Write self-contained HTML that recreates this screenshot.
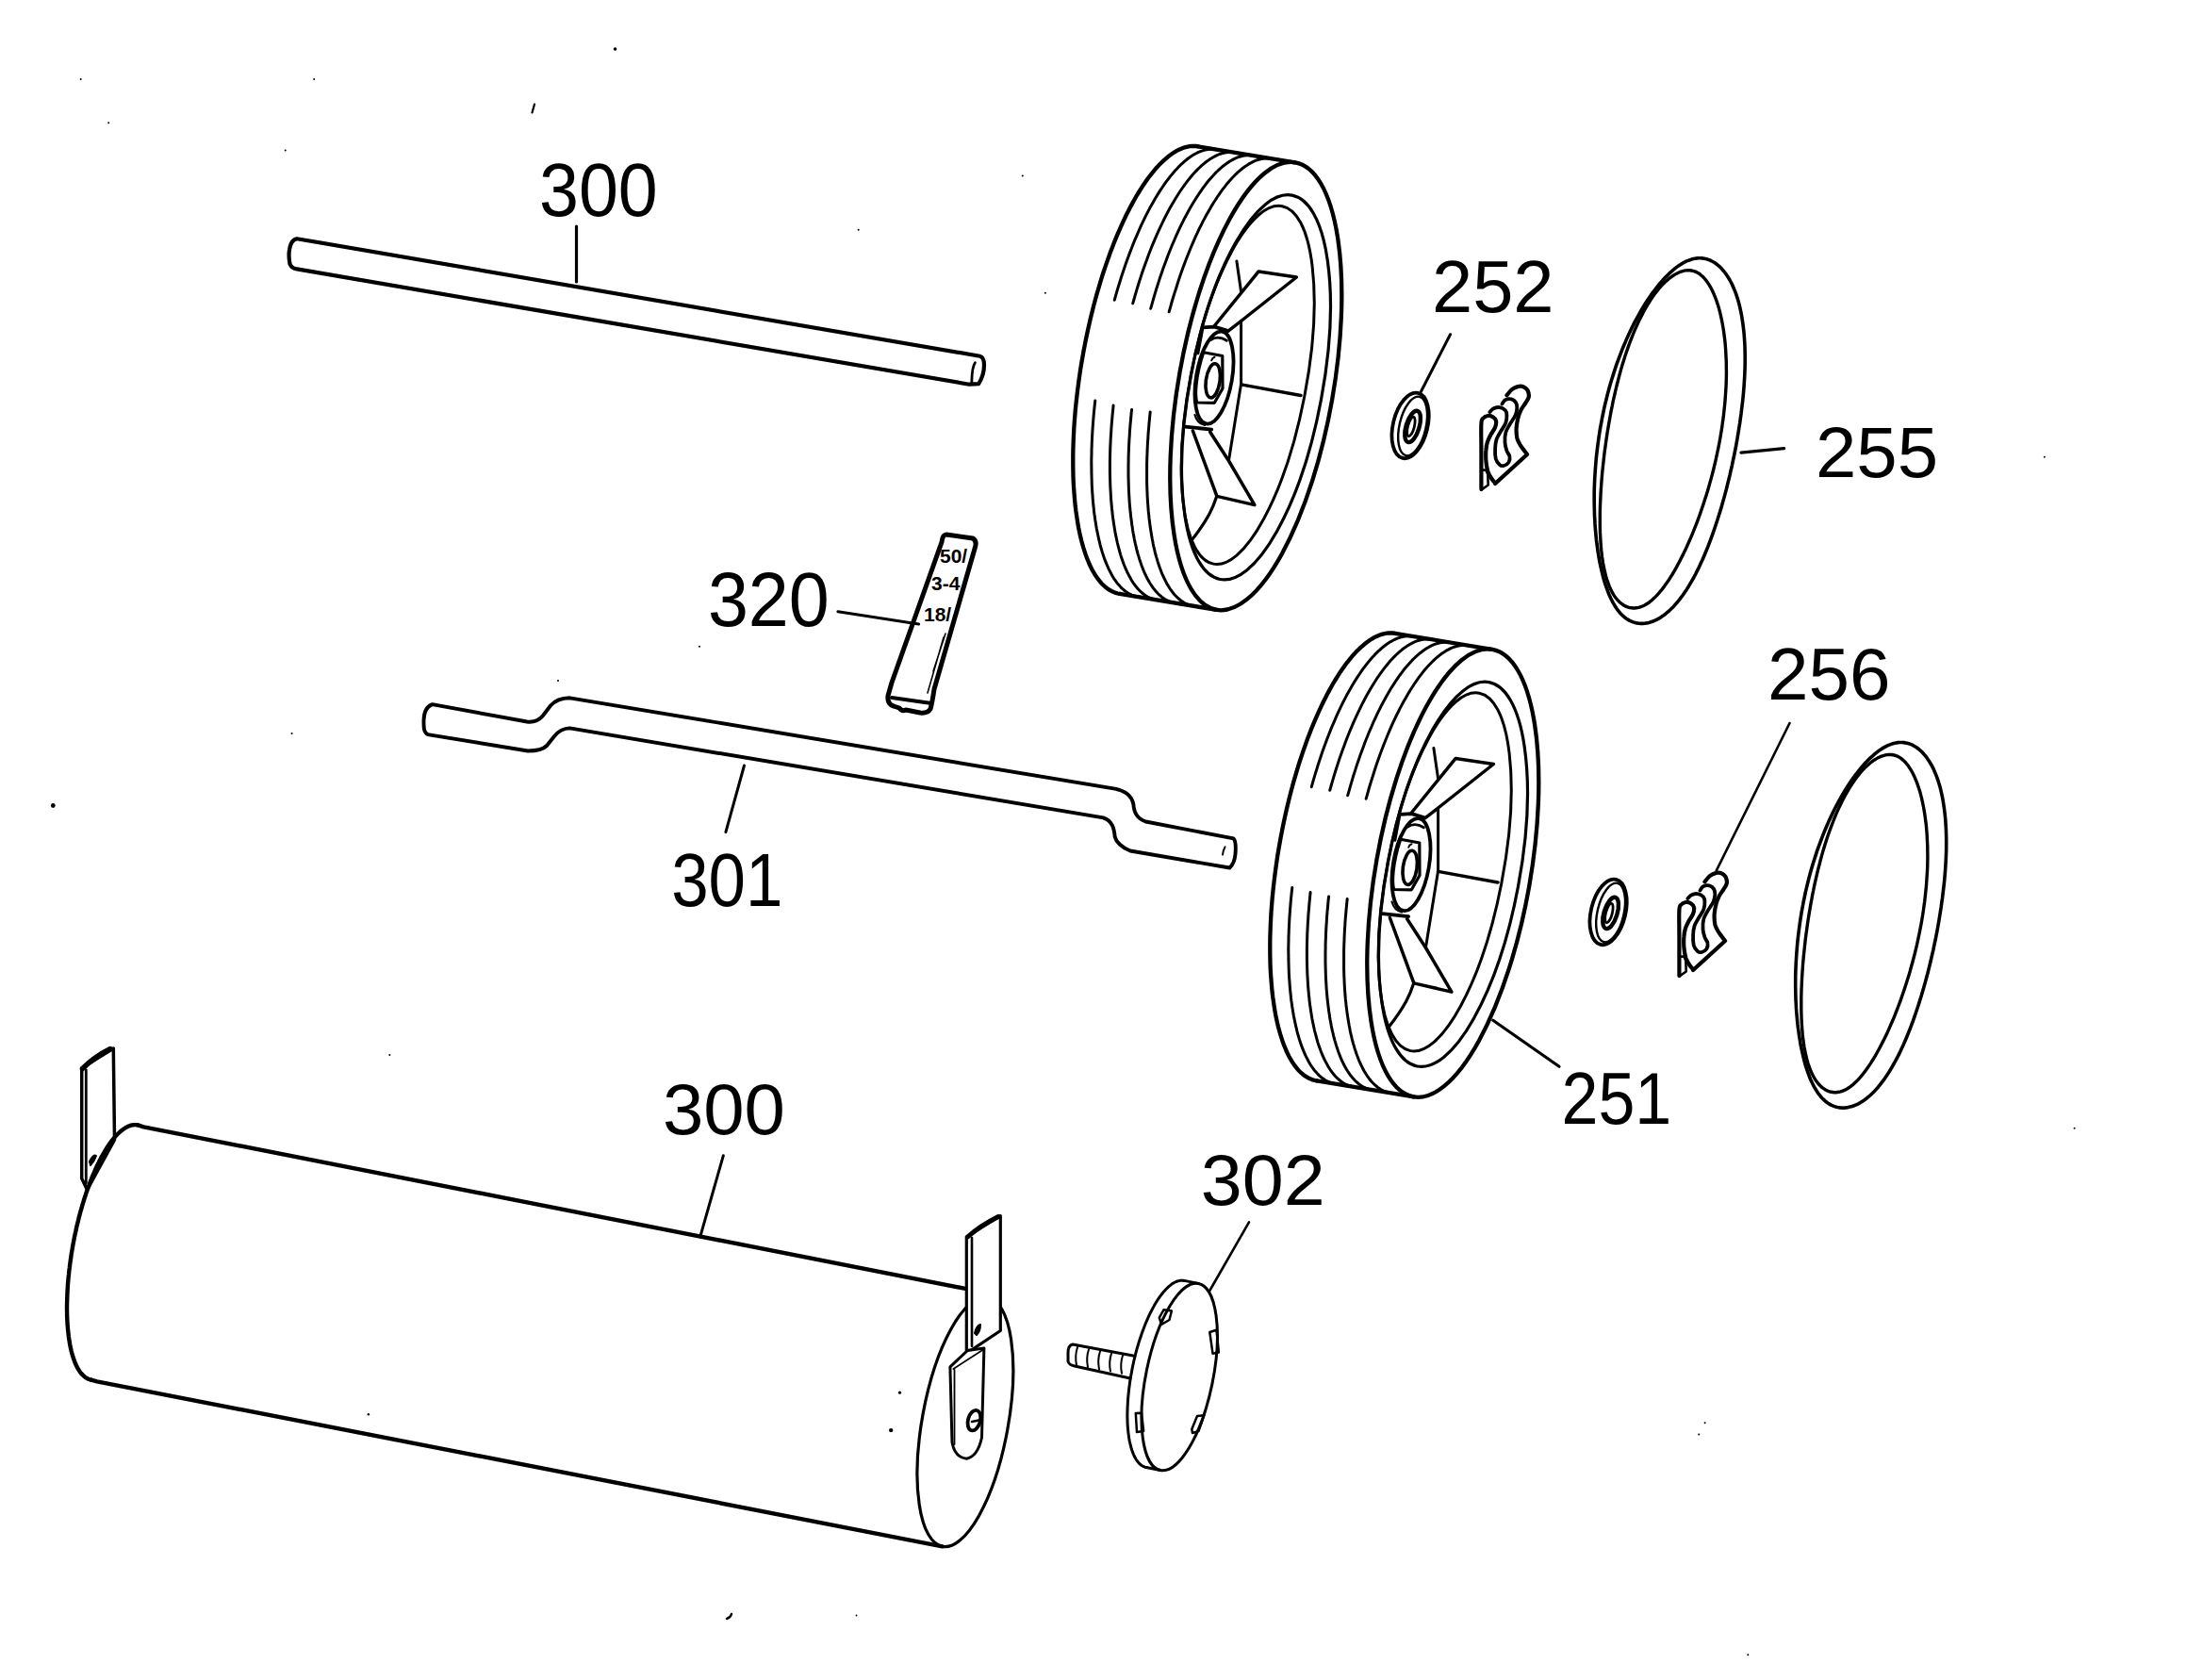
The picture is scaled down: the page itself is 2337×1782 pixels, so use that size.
<!DOCTYPE html>
<html><head><meta charset="utf-8"><style>
html,body{margin:0;padding:0;background:#fff;overflow:hidden;width:2337px;height:1782px;}
svg{display:block;}
text{font-family:"Liberation Sans",sans-serif;fill:#000;stroke:none;}
.lbl{font-size:100px;}
.tag{font-size:21px;font-weight:bold;}
</style></head><body>
<svg width="2337" height="1782" viewBox="0 0 2337 1782">
<g fill="none" stroke="#000" stroke-linecap="round" stroke-linejoin="round">
<g id="wheel"><path d="M1270.8 155.3 L1268.7 155.0 L1266.5 154.9 L1264.3 155.0 L1262.1 155.2 L1259.9 155.6 L1257.6 156.1 L1255.4 156.8 L1253.1 157.7 L1250.8 158.7 L1248.4 159.9 L1246.1 161.3 L1243.8 162.8 L1241.4 164.5 L1239.0 166.3 L1236.7 168.3 L1234.3 170.4 L1231.9 172.7 L1229.5 175.1 L1227.1 177.7 L1224.8 180.4 L1222.4 183.3 L1220.0 186.3 L1217.6 189.5 L1215.3 192.8 L1212.9 196.2 L1210.6 199.8 L1208.3 203.5 L1205.9 207.3 L1203.7 211.3 L1201.4 215.4 L1199.1 219.6 L1196.9 223.9 L1194.7 228.3 L1192.5 232.9 L1190.3 237.6 L1188.2 242.3 L1186.1 247.2 L1184.0 252.2 L1181.9 257.2 L1179.9 262.4 L1177.9 267.6 L1176.0 273.0 L1174.1 278.4 L1172.2 283.9 L1170.3 289.5 L1168.5 295.1 L1166.8 300.8 L1165.1 306.6 L1163.4 312.4 L1161.8 318.3 L1160.2 324.2 L1158.7 330.2 L1157.2 336.2 L1155.8 342.3 L1154.4 348.4 L1153.1 354.5 L1151.8 360.7 L1150.6 366.9 L1149.4 373.0 L1148.3 379.3 L1147.2 385.5 L1146.2 391.7 L1145.3 397.9 L1144.4 404.1 L1143.6 410.3 L1142.8 416.5 L1142.1 422.7 L1141.4 428.9 L1140.8 435.0 L1140.3 441.1 L1139.8 447.2 L1139.4 453.2 L1139.1 459.2 L1138.8 465.2 L1138.6 471.1 L1138.4 476.9 L1138.3 482.7 L1138.3 488.4 L1138.3 494.1 L1138.4 499.7 L1138.5 505.2 L1138.7 510.6 L1139.0 516.0 L1139.4 521.3 L1139.8 526.5 L1140.2 531.6 L1140.7 536.6 L1141.3 541.5 L1142.0 546.3 L1142.7 551.0 L1143.4 555.5 L1144.2 560.0 L1145.1 564.4 L1146.0 568.6 L1147.0 572.7 L1148.1 576.7 L1149.2 580.6 L1150.4 584.3 L1151.6 588.0 L1152.8 591.4 L1154.2 594.8 L1155.5 598.0 L1156.9 601.0 L1158.4 604.0 L1159.9 606.7 L1161.5 609.3 L1163.1 611.8 L1164.8 614.2 L1166.5 616.3 L1168.2 618.4 L1170.0 620.2 L1171.8 621.9 L1173.7 623.5 L1175.6 624.9 L1177.6 626.1 L1179.5 627.2 L1181.6 628.1 L1183.6 628.9 L1185.7 629.5 L1187.8 629.9" stroke-width="4.3"/>
<path d="M1270.8 155.3 L1373.8 172.3" stroke-width="4.3"/>
<path d="M1187.8 629.9 L1290.8 646.9" stroke-width="4.3"/>
<path d="M1290.4 158.5 L1288.6 158.3 L1286.9 158.2 L1285.1 158.2 L1283.3 158.3 L1281.4 158.5 L1279.6 158.8 L1277.7 159.2 L1275.9 159.8 L1274.0 160.4 L1272.1 161.2 L1270.2 162.0 L1268.3 163.0 L1266.3 164.1 L1264.4 165.3 L1262.5 166.6 L1260.5 168.0 L1258.6 169.5 L1256.6 171.1 L1254.7 172.9 L1252.7 174.7 L1250.7 176.6 L1248.8 178.7 L1246.8 180.8 L1244.9 183.0 L1242.9 185.4 L1240.9 187.8 L1239.0 190.3 L1237.0 192.9 L1235.1 195.7 L1233.2 198.5 L1231.2 201.4 L1229.3 204.4 L1227.4 207.4 L1225.5 210.6 L1223.6 213.9 L1221.7 217.2 L1219.8 220.6 L1218.0 224.1 L1216.1 227.7 L1214.3 231.4 L1212.5 235.1 L1210.7 238.9 L1208.9 242.8 L1207.2 246.8 L1205.5 250.8 L1203.7 254.9 L1202.0 259.1 L1200.4 263.3 L1198.7 267.6 L1197.1 271.9 L1195.5 276.3 L1193.9 280.8 L1192.4 285.3 L1190.8 289.9 L1189.3 294.5 L1187.9 299.2 L1186.4 303.9 L1185.0 308.6 L1183.6 313.4 L1182.3 318.2" stroke-width="3.0"/>
<path d="M1161.8 425.0 L1161.3 429.1 L1160.9 433.2 L1160.5 437.2 L1160.1 441.3 L1159.8 445.3 L1159.5 449.4 L1159.2 453.4 L1158.9 457.4 L1158.7 461.4 L1158.5 465.4 L1158.3 469.3 L1158.2 473.2 L1158.0 477.1 L1158.0 481.0 L1157.9 484.8 L1157.8 488.7 L1157.8 492.4 L1157.9 496.2 L1157.9 499.9 L1158.0 503.6 L1158.1 507.3 L1158.2 510.9 L1158.3 514.5 L1158.5 518.1 L1158.7 521.6 L1159.0 525.1 L1159.2 528.6 L1159.5 532.0 L1159.8 535.3 L1160.2 538.7 L1160.5 542.0 L1160.9 545.2 L1161.4 548.4 L1161.8 551.5 L1162.3 554.6 L1162.8 557.7 L1163.3 560.7 L1163.9 563.6 L1164.5 566.5 L1165.1 569.4 L1165.7 572.2 L1166.4 574.9 L1167.0 577.6 L1167.7 580.3 L1168.5 582.8 L1169.2 585.4 L1170.0 587.8 L1170.8 590.2 L1171.6 592.6 L1172.5 594.9 L1173.4 597.1 L1174.3 599.3 L1175.2 601.4 L1176.1 603.4 L1177.1 605.4 L1178.1 607.3 L1179.1 609.2 L1180.1 611.0 L1181.1 612.7 L1182.2 614.4 L1183.3 615.9 L1184.4 617.5 L1185.5 618.9 L1186.7 620.3 L1187.9 621.6 L1189.0 622.9 L1190.2 624.1 L1191.5 625.2 L1192.7 626.3 L1194.0 627.2 L1195.2 628.1 L1196.5 629.0 L1197.8 629.7 L1199.1 630.4 L1200.5 631.1 L1201.8 631.6 L1203.2 632.1 L1204.6 632.5 L1205.9 632.9 L1207.3 633.1" stroke-width="3.0"/>
<path d="M1310.0 161.8 L1308.2 161.5 L1306.4 161.4 L1304.6 161.4 L1302.8 161.5 L1301.0 161.7 L1299.1 162.0 L1297.3 162.5 L1295.4 163.0 L1293.5 163.7 L1291.6 164.4 L1289.7 165.3 L1287.8 166.3 L1285.9 167.4 L1284.0 168.6 L1282.0 169.9 L1280.1 171.3 L1278.1 172.8 L1276.2 174.4 L1274.2 176.1 L1272.2 178.0 L1270.3 179.9 L1268.3 181.9 L1266.3 184.1 L1264.4 186.3 L1262.4 188.7 L1260.4 191.1 L1258.5 193.6 L1256.5 196.3 L1254.6 199.0 L1252.6 201.8 L1250.7 204.7 L1248.8 207.7 L1246.9 210.8 L1245.0 214.0 L1243.1 217.2 L1241.2 220.6 L1239.3 224.0 L1237.5 227.5 L1235.6 231.1 L1233.8 234.8 L1232.0 238.6 L1230.2 242.4 L1228.4 246.3 L1226.7 250.2 L1224.9 254.3 L1223.2 258.4 L1221.5 262.5 L1219.8 266.8 L1218.2 271.1 L1216.6 275.4 L1215.0 279.8 L1213.4 284.3 L1211.8 288.8 L1210.3 293.4 L1208.8 298.0 L1207.3 302.7 L1205.9 307.4 L1204.5 312.2 L1203.1 317.0 L1201.7 321.8" stroke-width="3.0"/>
<path d="M1181.1 430.0 L1180.7 434.1 L1180.3 438.2 L1179.9 442.2 L1179.6 446.3 L1179.2 450.3 L1178.9 454.3 L1178.7 458.3 L1178.4 462.3 L1178.2 466.2 L1178.0 470.1 L1177.8 474.1 L1177.7 477.9 L1177.6 481.8 L1177.5 485.7 L1177.4 489.5 L1177.4 493.3 L1177.4 497.0 L1177.4 500.7 L1177.5 504.4 L1177.6 508.1 L1177.7 511.8 L1177.8 515.4 L1178.0 518.9 L1178.2 522.5 L1178.4 526.0 L1178.6 529.4 L1178.9 532.8 L1179.2 536.2 L1179.5 539.5 L1179.9 542.8 L1180.2 546.1 L1180.6 549.3 L1181.1 552.5 L1181.5 555.6 L1182.0 558.6 L1182.5 561.7 L1183.0 564.6 L1183.6 567.6 L1184.2 570.4 L1184.8 573.3 L1185.4 576.0 L1186.1 578.8 L1186.8 581.4 L1187.5 584.0 L1188.2 586.6 L1188.9 589.1 L1189.7 591.5 L1190.5 593.9 L1191.4 596.2 L1192.2 598.5 L1193.1 600.7 L1194.0 602.8 L1194.9 604.9 L1195.8 607.0 L1196.8 608.9 L1197.8 610.8 L1198.8 612.6 L1199.8 614.4 L1200.8 616.1 L1201.9 617.8 L1203.0 619.3 L1204.1 620.9 L1205.2 622.3 L1206.4 623.7 L1207.5 625.0 L1208.7 626.2 L1209.9 627.4 L1211.1 628.5 L1212.3 629.5 L1213.6 630.5 L1214.9 631.4 L1216.1 632.2 L1217.4 633.0 L1218.7 633.7 L1220.1 634.3 L1221.4 634.9 L1222.8 635.3 L1224.1 635.7 L1225.5 636.1 L1226.9 636.4" stroke-width="3.0"/>
<path d="M1329.5 165.0 L1327.8 164.8 L1326.0 164.6 L1324.2 164.6 L1322.3 164.7 L1320.5 165.0 L1318.6 165.3 L1316.8 165.7 L1314.9 166.3 L1313.0 166.9 L1311.1 167.7 L1309.1 168.6 L1307.2 169.6 L1305.3 170.7 L1303.3 171.9 L1301.4 173.2 L1299.4 174.7 L1297.4 176.2 L1295.5 177.9 L1293.5 179.6 L1291.5 181.5 L1289.5 183.4 L1287.6 185.5 L1285.6 187.7 L1283.6 190.0 L1281.6 192.3 L1279.6 194.8 L1277.7 197.4 L1275.7 200.0 L1273.8 202.8 L1271.8 205.7 L1269.9 208.6 L1267.9 211.7 L1266.0 214.8 L1264.1 218.0 L1262.2 221.3 L1260.3 224.7 L1258.4 228.2 L1256.5 231.8 L1254.7 235.4 L1252.8 239.1 L1251.0 242.9 L1249.2 246.8 L1247.4 250.7 L1245.7 254.8 L1243.9 258.8 L1242.2 263.0 L1240.5 267.2 L1238.8 271.5 L1237.2 275.9 L1235.6 280.3 L1233.9 284.7 L1232.4 289.2 L1230.8 293.8 L1229.3 298.4 L1227.8 303.1 L1226.3 307.8 L1224.9 312.6 L1223.5 317.4 L1222.1 322.3 L1220.7 327.2" stroke-width="3.0"/>
<path d="M1200.6 434.4 L1200.1 438.4 L1199.8 442.5 L1199.4 446.5 L1199.0 450.5 L1198.7 454.5 L1198.4 458.5 L1198.2 462.5 L1197.9 466.5 L1197.7 470.4 L1197.5 474.3 L1197.4 478.2 L1197.2 482.1 L1197.1 485.9 L1197.1 489.7 L1197.0 493.5 L1197.0 497.3 L1197.0 501.0 L1197.0 504.8 L1197.1 508.4 L1197.2 512.1 L1197.3 515.7 L1197.4 519.3 L1197.6 522.8 L1197.8 526.4 L1198.0 529.8 L1198.2 533.3 L1198.5 536.7 L1198.8 540.0 L1199.1 543.3 L1199.5 546.6 L1199.9 549.9 L1200.3 553.0 L1200.7 556.2 L1201.2 559.3 L1201.6 562.3 L1202.1 565.3 L1202.7 568.3 L1203.2 571.2 L1203.8 574.1 L1204.4 576.9 L1205.1 579.6 L1205.7 582.3 L1206.4 585.0 L1207.1 587.6 L1207.9 590.1 L1208.6 592.6 L1209.4 595.0 L1210.2 597.4 L1211.0 599.7 L1211.9 602.0 L1212.7 604.1 L1213.6 606.3 L1214.5 608.3 L1215.5 610.4 L1216.4 612.3 L1217.4 614.2 L1218.4 616.0 L1219.4 617.8 L1220.5 619.5 L1221.6 621.1 L1222.6 622.7 L1223.7 624.2 L1224.9 625.6 L1226.0 627.0 L1227.2 628.3 L1228.3 629.5 L1229.5 630.7 L1230.7 631.8 L1232.0 632.8 L1233.2 633.8 L1234.5 634.7 L1235.7 635.5 L1237.0 636.3 L1238.3 636.9 L1239.7 637.6 L1241.0 638.1 L1242.4 638.6 L1243.7 639.0 L1245.1 639.3 L1246.5 639.6" stroke-width="3.0"/>
<path d="M1349.1 168.2 L1347.3 168.0 L1345.5 167.9 L1343.7 167.9 L1341.9 168.0 L1340.0 168.2 L1338.2 168.5 L1336.3 169.0 L1334.4 169.5 L1332.5 170.2 L1330.6 170.9 L1328.7 171.8 L1326.8 172.8 L1324.8 173.9 L1322.9 175.2 L1320.9 176.5 L1318.9 177.9 L1317.0 179.5 L1315.0 181.1 L1313.0 182.9 L1311.0 184.8 L1309.1 186.7 L1307.1 188.8 L1305.1 191.0 L1303.1 193.3 L1301.1 195.6 L1299.2 198.1 L1297.2 200.7 L1295.2 203.4 L1293.3 206.1 L1291.3 209.0 L1289.4 212.0 L1287.4 215.0 L1285.5 218.1 L1283.6 221.4 L1281.7 224.7 L1279.8 228.1 L1277.9 231.6 L1276.0 235.1 L1274.2 238.8 L1272.3 242.5 L1270.5 246.3 L1268.7 250.2 L1266.9 254.2 L1265.2 258.2 L1263.4 262.3 L1261.7 266.5 L1260.0 270.7 L1258.3 275.0 L1256.7 279.3 L1255.0 283.8 L1253.4 288.2 L1251.8 292.8 L1250.3 297.3 L1248.8 302.0 L1247.3 306.7 L1245.8 311.4 L1244.3 316.2 L1242.9 321.0 L1241.6 325.8 L1240.2 330.7" stroke-width="3.0"/>
<path d="M1220.2 436.9 L1219.8 440.9 L1219.4 445.0 L1219.0 449.0 L1218.7 453.1 L1218.3 457.1 L1218.0 461.1 L1217.8 465.1 L1217.5 469.0 L1217.3 473.0 L1217.1 476.9 L1217.0 480.8 L1216.8 484.7 L1216.7 488.6 L1216.6 492.4 L1216.6 496.2 L1216.6 500.0 L1216.6 503.7 L1216.6 507.5 L1216.6 511.2 L1216.7 514.8 L1216.8 518.5 L1217.0 522.1 L1217.1 525.6 L1217.3 529.1 L1217.5 532.6 L1217.8 536.1 L1218.0 539.5 L1218.3 542.9 L1218.7 546.2 L1219.0 549.5 L1219.4 552.7 L1219.8 555.9 L1220.2 559.1 L1220.7 562.2 L1221.2 565.3 L1221.7 568.3 L1222.2 571.2 L1222.8 574.2 L1223.3 577.0 L1223.9 579.9 L1224.6 582.6 L1225.2 585.3 L1225.9 588.0 L1226.6 590.6 L1227.4 593.1 L1228.1 595.6 L1228.9 598.1 L1229.7 600.4 L1230.5 602.8 L1231.4 605.0 L1232.2 607.2 L1233.1 609.4 L1234.1 611.5 L1235.0 613.5 L1236.0 615.4 L1236.9 617.3 L1237.9 619.2 L1239.0 620.9 L1240.0 622.6 L1241.1 624.3 L1242.2 625.8 L1243.3 627.3 L1244.4 628.8 L1245.5 630.2 L1246.7 631.5 L1247.9 632.7 L1249.1 633.9 L1250.3 635.0 L1251.5 636.0 L1252.7 637.0 L1254.0 637.9 L1255.3 638.7 L1256.6 639.5 L1257.9 640.2 L1259.2 640.8 L1260.6 641.3 L1261.9 641.8 L1263.3 642.2 L1264.7 642.5 L1266.1 642.8" stroke-width="3.0"/>
<ellipse cx="1332.3" cy="409.6" rx="240.9" ry="82.1" transform="rotate(-80.00 1332.3 409.6)" stroke-width="4.3"/>
<ellipse cx="1332.5" cy="410.8" rx="207.2" ry="70.2" transform="rotate(-79.40 1332.5 410.8)" stroke-width="3.2"/>
<ellipse cx="1323.7" cy="408.4" rx="193.2" ry="61.3" transform="rotate(-79.10 1323.7 408.4)" stroke-width="3.0"/>
<ellipse cx="1288.0" cy="400.6" rx="49.6" ry="19.0" transform="rotate(-80.33 1288.0 400.6)" stroke-width="3.8"/>
<path d="M1275.9 347.4 L1288.3 346.6 L1301.4 350.5" stroke-width="3.8"/>
<path d="M1257.3 452.6 L1285.2 455.6" stroke-width="3.8"/>
<path d="M1275.9 348.9 L1271 375" stroke-width="2.6"/>
<path d="M1276.7 373.7 L1296.8 377.5 L1297 412 L1288.3 427.3 L1269.7 427 C1267.5 420 1268 400 1276.7 373.7 Z" stroke-width="3.2"/>
<ellipse cx="1286.7" cy="403.8" rx="18.2" ry="7.4" transform="rotate(-82.00 1286.7 403.8)" stroke-width="3.6"/>
<path d="M1284.4 360.5 Q1292 355.5 1301.4 361.3" stroke-width="2.8"/>
<path d="M1285.2 382.2 Q1286 379.5 1288.5 378.8" stroke-width="2.0"/>
<path d="M1267.5 440 Q1270 449 1278 451" stroke-width="2.2"/>
<path d="M1288 346 L1335.2 287.9 L1375.4 294 L1316.6 340.5 L1302.6 351.3" stroke-width="3.5"/>
<path d="M1311.9 277 L1316.6 309.5" stroke-width="3.0"/>
<path d="M1316.6 340.5 L1316.6 407 L1303.4 489.1" stroke-width="3.0"/>
<path d="M1316.6 407.9 L1380 419.5" stroke-width="3.5"/>
<path d="M1265.4 457 L1290.9 526.4 L1330.9 535.6 L1303.3 488.5 L1283.7 458.3" stroke-width="3.5"/>
<path d="M1290.5 527 C1287 538 1282 550 1264.5 572.5" stroke-width="3.2"/></g>
<use href="#wheel" transform="translate(209 516.5)"/>
<g id="wc"><ellipse cx="1496.1" cy="451.4" rx="35.5" ry="18.3" transform="rotate(-76.61 1496.1 451.4)" stroke-width="3.8"/>
<ellipse cx="1498.6" cy="452.0" rx="32.0" ry="14.0" transform="rotate(-77.00 1498.6 452.0)" stroke-width="2.4"/>
<ellipse cx="1498.6" cy="452.4" rx="17.3" ry="7.0" transform="rotate(-73.12 1498.6 452.4)" stroke-width="4.4"/>
<ellipse cx="1496.9" cy="452.5" rx="10.6" ry="3.4" transform="rotate(-75.51 1496.9 452.5)" stroke-width="2.8"/>
<path d="M1571.4 519.1 C1571.4 512.2 1571.4 489.0 1571.4 477.4 C1571.4 465.8 1571.0 455.1 1571.4 449.5 C1571.7 443.9 1572.1 445.1 1573.3 443.7 C1574.4 442.3 1576.6 441.3 1578.3 441.0 C1580.1 440.7 1582.3 441.3 1583.7 442.2 C1585.2 443.1 1586.6 444.6 1587.0 446.4 C1587.4 448.3 1587.0 450.9 1586.1 453.4 C1585.1 455.8 1582.8 458.5 1581.4 461.1 C1580.1 463.7 1578.8 466.2 1577.9 468.9 C1577.1 471.6 1576.6 474.0 1576.4 477.4 C1576.1 480.7 1576.1 485.2 1576.4 489.0 C1576.7 492.7 1577.4 496.7 1578.3 499.8 C1579.3 502.9 1580.9 505.5 1582.2 507.5 C1583.5 509.6 1585.4 511.4 1586.1 512.2" stroke-width="4.2"/>
<path d="M1580.3 437.1 C1581.0 436.5 1582.8 434.1 1584.5 433.3 C1586.2 432.4 1588.6 431.8 1590.7 432.1 C1592.8 432.4 1595.6 433.8 1596.9 435.2 C1598.2 436.6 1598.4 438.0 1598.4 440.2 C1598.5 442.5 1598.3 445.9 1597.3 448.7 C1596.2 451.6 1593.9 454.4 1592.2 457.3 C1590.6 460.1 1588.6 462.7 1587.6 465.8 C1586.6 468.9 1586.2 472.3 1586.1 475.8 C1585.9 479.3 1586.1 483.8 1586.8 486.7 C1587.6 489.5 1589.3 491.6 1590.7 492.8 C1592.1 494.1 1593.7 494.4 1595.3 494.0 C1597.0 493.6 1599.3 492.1 1600.4 490.5 C1601.4 488.9 1601.9 486.4 1601.5 484.3 C1601.2 482.3 1599.3 480.6 1598.4 478.1 C1597.6 475.7 1596.7 472.9 1596.5 469.6 C1596.3 466.4 1596.4 462.0 1597.3 458.8 C1598.1 455.6 1599.8 453.4 1601.5 450.3 C1603.3 447.2 1606.4 443.2 1607.7 440.2 C1609.0 437.3 1609.2 434.7 1609.3 432.5 C1609.3 430.3 1609.0 428.6 1608.1 427.1 C1607.2 425.6 1605.2 424.2 1603.8 423.6 C1602.5 423.0 1601.3 423.0 1600.0 423.2 C1598.7 423.4 1597.2 423.9 1596.1 424.8 C1595.0 425.7 1593.9 428.0 1593.4 428.6" stroke-width="3.8"/>
<path d="M1598.4 419.3 C1599.3 418.3 1601.9 414.7 1603.8 413.2 C1605.8 411.6 1608.1 410.6 1610.0 410.1 C1612.0 409.5 1613.7 409.3 1615.5 409.9 C1617.2 410.5 1619.4 412.1 1620.5 413.9 C1621.5 415.8 1622.1 418.7 1621.8 420.9 C1621.5 423.1 1619.9 424.8 1618.5 427.1 C1617.2 429.4 1614.9 432.1 1613.5 434.8 C1612.2 437.5 1611.2 440.1 1610.4 443.3 C1609.6 446.6 1608.8 450.5 1608.6 454.2 C1608.5 457.8 1608.7 461.9 1609.4 465.0 C1610.2 468.1 1611.4 469.9 1613.1 472.7 C1614.9 475.6 1618.9 480.5 1620.1 482.0 L1586.1 513.0" stroke-width="4.2"/>
<path d="M1572.5 498.6 L1576.4 498.6 L1578.3 502.9 L1578.7 514.5 L1572.1 519.1" stroke-width="2.6"/></g>
<use href="#wc" transform="translate(210 516)"/>
<g id="ring"><path d="M1805.8 273.9 L1807.6 274.2 L1809.5 274.6 L1811.4 275.1 L1813.2 275.7 L1815.0 276.5 L1816.9 277.5 L1818.7 278.5 L1820.5 279.8 L1822.2 281.1 L1824.0 282.6 L1825.7 284.3 L1827.3 286.1 L1828.9 288.0 L1830.5 290.0 L1832.0 292.2 L1833.5 294.5 L1835.0 297.0 L1836.3 299.5 L1837.7 302.2 L1838.9 305.0 L1840.1 307.9 L1841.3 310.9 L1842.4 314.1 L1843.4 317.3 L1844.4 320.6 L1845.3 324.1 L1846.1 327.6 L1846.9 331.3 L1847.6 335.0 L1848.2 338.8 L1848.8 342.7 L1849.3 346.7 L1849.8 350.8 L1850.2 354.9 L1850.5 359.1 L1850.8 363.4 L1851.0 367.8 L1851.1 372.2 L1851.2 376.7 L1851.2 381.2 L1851.2 385.8 L1851.1 390.4 L1850.9 395.1 L1850.7 399.8 L1850.4 404.6 L1850.1 409.4 L1849.7 414.3 L1849.3 419.2 L1848.8 424.1 L1848.2 429.0 L1847.6 434.0 L1847.0 439.0 L1846.3 443.9 L1845.6 449.0 L1844.8 454.0 L1844.0 459.0 L1843.2 464.0 L1842.3 469.1 L1841.4 474.1 L1840.4 479.1 L1839.4 484.1 L1838.3 489.1 L1837.3 494.1 L1836.1 499.1 L1835.0 504.1 L1833.8 509.0 L1832.6 513.9 L1831.4 518.8 L1830.1 523.6 L1828.8 528.4 L1827.4 533.2 L1826.1 537.9 L1824.7 542.6 L1823.2 547.2 L1821.8 551.8 L1820.3 556.3 L1818.8 560.8 L1817.3 565.2 L1815.7 569.6 L1814.1 573.9 L1812.5 578.1 L1810.9 582.2 L1809.2 586.3 L1807.5 590.3 L1805.8 594.2 L1804.0 598.0 L1802.3 601.8 L1800.5 605.4 L1798.7 609.0 L1796.8 612.5 L1794.9 615.8 L1793.0 619.1 L1791.1 622.3 L1789.2 625.4 L1787.2 628.3 L1785.2 631.2 L1783.2 633.9 L1781.2 636.5 L1779.2 639.0 L1777.1 641.4 L1775.0 643.7 L1772.9 645.8 L1770.8 647.8 L1768.6 649.7 L1766.5 651.5 L1764.3 653.1 L1762.2 654.5 L1760.0 655.9 L1757.8 657.1 L1755.6 658.1 L1753.5 659.0 L1751.3 659.8 L1749.1 660.4 L1746.9 660.9 L1744.8 661.2 L1742.7 661.4 L1740.6 661.4 L1738.6 661.2 L1736.5 660.9 L1734.6 660.5 L1732.6 659.9 L1730.8 659.2 L1728.9 658.4 L1727.2 657.4 L1725.4 656.3 L1723.8 655.1 L1722.2 653.7 L1720.6 652.2 L1719.1 650.7 L1717.6 649.0 L1716.2 647.2 L1714.8 645.3 L1713.5 643.2 L1712.2 641.1 L1710.9 638.9 L1709.7 636.5 L1708.5 634.1 L1707.3 631.5 L1706.2 628.8 L1705.2 626.1 L1704.1 623.2 L1703.1 620.2 L1702.1 617.2 L1701.2 614.0 L1700.3 610.7 L1699.5 607.3 L1698.7 603.9 L1697.9 600.3 L1697.1 596.7 L1696.4 592.9 L1695.8 589.1 L1695.1 585.2 L1694.6 581.2 L1694.0 577.1 L1693.5 573.0 L1693.1 568.8 L1692.7 564.5 L1692.3 560.1 L1692.0 555.7 L1691.8 551.2 L1691.5 546.6 L1691.4 542.0 L1691.3 537.3 L1691.2 532.6 L1691.2 527.9 L1691.2 523.0 L1691.3 518.2 L1691.5 513.3 L1691.7 508.4 L1692.0 503.4 L1692.3 498.4 L1692.7 493.4 L1693.1 488.4 L1693.6 483.3 L1694.2 478.2 L1694.8 473.2 L1695.5 468.1 L1696.2 463.0 L1697.0 457.9 L1697.8 452.9 L1698.8 447.8 L1699.7 442.8 L1700.8 437.7 L1701.8 432.7 L1703.0 427.7 L1704.2 422.8 L1705.4 417.9 L1706.7 413.0 L1708.1 408.1 L1709.5 403.3 L1711.0 398.6 L1712.5 393.9 L1714.0 389.2 L1715.6 384.6 L1717.3 380.1 L1719.0 375.6 L1720.7 371.2 L1722.5 366.8 L1724.3 362.6 L1726.1 358.4 L1728.0 354.3 L1729.9 350.2 L1731.8 346.3 L1733.8 342.4 L1735.8 338.7 L1737.8 335.0 L1739.8 331.4 L1741.8 327.9 L1743.9 324.5 L1745.9 321.2 L1748.0 318.0 L1750.1 314.9 L1752.2 311.9 L1754.3 309.0 L1756.4 306.3 L1758.5 303.6 L1760.6 301.0 L1762.7 298.6 L1764.7 296.3 L1766.8 294.0 L1768.9 291.9 L1770.9 289.9 L1773.0 288.1 L1775.0 286.3 L1777.0 284.7 L1779.0 283.1 L1781.0 281.7 L1783.0 280.4 L1785.0 279.2 L1786.9 278.2 L1788.8 277.2 L1790.8 276.4 L1792.7 275.7 L1794.5 275.1 L1796.4 274.6 L1798.3 274.2 L1800.2 273.9 L1802.0 273.8 L1803.9 273.8 Z" stroke-width="3.6"/><path d="M1795.8 287.3 L1797.2 287.7 L1798.5 288.2 L1799.8 288.7 L1801.1 289.4 L1802.4 290.2 L1803.7 291.2 L1804.9 292.2 L1806.2 293.3 L1807.4 294.5 L1808.6 295.9 L1809.8 297.3 L1811.0 298.9 L1812.1 300.6 L1813.3 302.4 L1814.4 304.3 L1815.5 306.3 L1816.6 308.5 L1817.6 310.7 L1818.6 313.1 L1819.6 315.5 L1820.6 318.1 L1821.5 320.8 L1822.4 323.5 L1823.3 326.4 L1824.1 329.4 L1824.9 332.5 L1825.6 335.6 L1826.3 338.9 L1827.0 342.3 L1827.6 345.7 L1828.2 349.2 L1828.7 352.8 L1829.2 356.5 L1829.7 360.3 L1830.1 364.1 L1830.4 368.1 L1830.7 372.0 L1830.9 376.1 L1831.1 380.2 L1831.3 384.4 L1831.3 388.6 L1831.4 392.9 L1831.4 397.2 L1831.3 401.6 L1831.2 406.0 L1831.0 410.5 L1830.7 415.0 L1830.4 419.5 L1830.1 424.1 L1829.7 428.7 L1829.2 433.3 L1828.7 437.9 L1828.2 442.6 L1827.5 447.3 L1826.9 451.9 L1826.2 456.6 L1825.4 461.3 L1824.6 466.0 L1823.7 470.7 L1822.8 475.3 L1821.8 480.0 L1820.8 484.7 L1819.8 489.3 L1818.7 493.9 L1817.6 498.5 L1816.4 503.1 L1815.2 507.6 L1813.9 512.1 L1812.7 516.6 L1811.4 521.0 L1810.0 525.4 L1808.6 529.8 L1807.2 534.1 L1805.8 538.3 L1804.3 542.6 L1802.9 546.7 L1801.4 550.8 L1799.9 554.8 L1798.3 558.8 L1796.8 562.7 L1795.2 566.6 L1793.6 570.3 L1792.0 574.0 L1790.4 577.7 L1788.8 581.2 L1787.1 584.7 L1785.5 588.1 L1783.8 591.4 L1782.2 594.6 L1780.5 597.8 L1778.9 600.8 L1777.2 603.8 L1775.6 606.7 L1773.9 609.5 L1772.2 612.1 L1770.6 614.7 L1768.9 617.2 L1767.2 619.6 L1765.6 621.9 L1763.9 624.1 L1762.3 626.2 L1760.6 628.2 L1758.9 630.1 L1757.3 631.9 L1755.6 633.6 L1754.0 635.1 L1752.4 636.6 L1750.7 637.9 L1749.1 639.2 L1747.4 640.3 L1745.8 641.3 L1744.1 642.2 L1742.4 643.0 L1740.8 643.6 L1739.1 644.2 L1737.4 644.6 L1735.7 644.8 L1734.1 645.0 L1732.4 645.0 L1730.7 644.8 L1729.0 644.6 L1727.4 644.1 L1725.8 643.6 L1724.2 642.9 L1722.6 642.0 L1721.1 641.0 L1719.6 639.9 L1718.2 638.7 L1716.8 637.3 L1715.4 635.8 L1714.1 634.2 L1712.8 632.4 L1711.6 630.6 L1710.5 628.6 L1709.4 626.5 L1708.3 624.4 L1707.3 622.1 L1706.4 619.7 L1705.5 617.2 L1704.6 614.6 L1703.8 611.9 L1703.1 609.1 L1702.4 606.2 L1701.7 603.2 L1701.1 600.1 L1700.5 597.0 L1700.0 593.7 L1699.5 590.4 L1699.1 587.0 L1698.7 583.5 L1698.4 579.9 L1698.1 576.3 L1697.9 572.6 L1697.7 568.8 L1697.5 564.9 L1697.4 561.0 L1697.3 557.0 L1697.3 553.0 L1697.3 548.9 L1697.3 544.7 L1697.4 540.5 L1697.5 536.2 L1697.7 531.9 L1697.9 527.6 L1698.1 523.2 L1698.4 518.7 L1698.7 514.3 L1699.0 509.8 L1699.4 505.2 L1699.8 500.7 L1700.3 496.1 L1700.8 491.4 L1701.3 486.8 L1701.8 482.2 L1702.4 477.5 L1703.1 472.8 L1703.7 468.1 L1704.4 463.4 L1705.1 458.8 L1705.9 454.1 L1706.7 449.4 L1707.5 444.7 L1708.4 440.0 L1709.2 435.4 L1710.2 430.8 L1711.1 426.1 L1712.1 421.6 L1713.2 417.0 L1714.2 412.5 L1715.3 408.0 L1716.5 403.5 L1717.6 399.1 L1718.8 394.7 L1720.0 390.4 L1721.3 386.1 L1722.6 381.9 L1723.9 377.7 L1725.3 373.6 L1726.7 369.6 L1728.1 365.6 L1729.6 361.7 L1731.1 357.8 L1732.6 354.0 L1734.1 350.3 L1735.7 346.7 L1737.3 343.2 L1738.9 339.8 L1740.6 336.4 L1742.3 333.1 L1743.9 330.0 L1745.7 326.9 L1747.4 323.9 L1749.2 321.0 L1750.9 318.3 L1752.7 315.6 L1754.5 313.0 L1756.3 310.6 L1758.2 308.2 L1760.0 306.0 L1761.8 303.9 L1763.7 301.9 L1765.5 300.0 L1767.4 298.3 L1769.2 296.7 L1771.0 295.1 L1772.8 293.8 L1774.7 292.5 L1776.5 291.4 L1778.2 290.4 L1780.0 289.5 L1781.7 288.7 L1783.4 288.1 L1785.1 287.6 L1786.7 287.2 L1788.3 286.9 L1789.9 286.8 L1791.4 286.7 L1792.9 286.8 L1794.4 287.0 Z" stroke-width="3.4"/></g>
<use href="#ring" transform="translate(213.5 513.7)"/>
<path d="M315 253.2 L1039.4 377.7 C1042.5 378.5 1044 382 1044 387.2 C1044 394 1042.6 400 1038.1 407.2 L1028.1 407.7 L315 285.4 C311 285 309 284 307.5 280 C306.5 275 306.5 268 307 265 C308 258 310 254 315 253.2 Z" stroke-width="4.2"/>
<path d="M1034.4 384.7 C1032 388 1031 395 1030.8 405.4" stroke-width="2.8"/>
<path d="M458.6 747.2 L559 765.5 C567 766.5 572 764 576 759 L584 748.5 C588 744 595 740.5 604.5 740.3 L1182.7 836.7 C1192 838.5 1200 843 1202.3 852.7 C1203 862 1206 868 1215.4 871.5 L1308.5 889.4 C1311 892 1311 900 1310.5 905.8 C1310 912 1308 917 1304.4 920.5 L1199 902.5 C1190 899 1184 893 1182.7 887.8 C1181.9 878 1180 871 1170.4 867.4 L604.5 772.4 C597 772.6 592 776 588 781 L580 791 C576 795 570 796.5 560 796.5 L453.8 779.1 C449.5 777 449.5 772 449.5 765 C449.5 757 451 750 458.6 747.2 Z" stroke-width="3.9"/>
<path d="M1299.5 898.4 C1298 901 1297.3 903 1297 906.6" stroke-width="2.0"/>
<path d="M1004 567 L1032 571 Q1037 574 1034 582 L991 731 Q989 745 987 752 Q984 757 976 756 L961 753 Q957 755 954 751 L948 749 Q941 747 942 738 L946 724 L972 651 L999 575 Q1000 567 1004 567 Z" stroke-width="5.0"/>
<g class="tag"><text class="tag" x="997" y="597">50/</text><text class="tag" x="988" y="626">3-4</text><text class="tag" x="980" y="659">18/</text></g>
<path d="M946 740 L988 746" stroke-width="4.0"/>
<path d="M1001 676 L984 735 M1003 672 L990 712" stroke-width="1.6"/>
<path d="M86.7 1132.9 L120.3 1112 L121.5 1209 L92.5 1262 L86.7 1250 Z" stroke-width="3.5" fill="#fff"/>
<path d="M91.3 1135 L91.3 1255" stroke-width="2.8"/>
<path d="M87.5 1133.5 Q100 1121 117 1112.5" stroke-width="5.5"/>
<path d="M95 1232 Q99 1224 102 1226 Q100 1232 96 1236 Z" fill="#000" stroke-width="2"/>
<path d="M146.3 1193.4 L145.1 1193.2 L144.0 1193.1 L142.8 1193.1 L141.6 1193.2 L140.3 1193.4 L139.1 1193.7 L137.9 1194.0 L136.6 1194.5 L135.3 1195.1 L134.1 1195.7 L132.8 1196.5 L131.5 1197.3 L130.2 1198.2 L128.9 1199.2 L127.6 1200.3 L126.3 1201.5 L124.9 1202.8 L123.6 1204.1 L122.3 1205.6 L121.0 1207.1 L119.7 1208.7 L118.3 1210.4 L117.0 1212.2 L115.7 1214.1 L114.4 1216.0 L113.1 1218.0 L111.8 1220.1 L110.5 1222.3 L109.2 1224.5 L107.9 1226.8 L106.7 1229.2 L105.4 1231.6 L104.2 1234.1 L102.9 1236.7 L101.7 1239.4 L100.5 1242.1 L99.3 1244.8 L98.1 1247.6 L97.0 1250.5 L95.8 1253.4 L94.7 1256.4 L93.6 1259.5 L92.5 1262.5 L91.4 1265.6 L90.4 1268.8 L89.3 1272.0 L88.3 1275.3 L87.3 1278.5 L86.4 1281.8 L85.4 1285.2 L84.5 1288.6 L83.6 1292.0 L82.8 1295.4 L81.9 1298.9 L81.1 1302.3 L80.4 1305.8 L79.6 1309.3 L78.9 1312.8 L78.2 1316.4 L77.5 1319.9 L76.9 1323.4 L76.3 1327.0 L75.7 1330.5 L75.2 1334.1 L74.7 1337.6 L74.2 1341.2 L73.8 1344.7 L73.3 1348.2 L73.0 1351.7 L72.6 1355.2 L72.3 1358.7 L72.0 1362.1 L71.8 1365.5 L71.6 1368.9 L71.4 1372.3 L71.3 1375.6 L71.2 1379.0 L71.1 1382.2 L71.0 1385.5 L71.0 1388.7 L71.1 1391.8 L71.1 1394.9 L71.2 1398.0 L71.4 1401.0 L71.5 1404.0 L71.8 1406.9 L72.0 1409.8 L72.3 1412.6 L72.6 1415.3 L72.9 1418.0 L73.3 1420.7 L73.7 1423.2 L74.1 1425.7 L74.6 1428.2 L75.1 1430.5 L75.6 1432.8 L76.2 1435.1 L76.8 1437.2 L77.4 1439.3 L78.1 1441.3 L78.8 1443.2 L79.5 1445.1 L80.2 1446.8 L81.0 1448.5 L81.8 1450.1 L82.6 1451.6 L83.5 1453.1 L84.4 1454.4 L85.3 1455.7 L86.2 1456.9 L87.2 1457.9 L88.2 1458.9 L89.2 1459.8 L90.2 1460.7 L91.2 1461.4 L92.3 1462.0 L93.4 1462.6 L94.5 1463.0 L95.6 1463.4 L96.8 1463.7" stroke-width="4.4"/>
<path d="M146.3 1193.4 L152.3 1195.3 L1025.3 1367.1" stroke-width="4.4"/>
<path d="M96.8 1463.7 L102.8 1465.3 L999.7 1640.3" stroke-width="4.4"/>
<ellipse cx="1023.9" cy="1508.3" rx="134.2" ry="45.6" transform="rotate(-79.70 1023.9 1508.3)" stroke-width="3.2"/>
<path d="M1025.3 1311.8 L1061.3 1289.7 L1061.3 1411.5 L1030 1432.4 L1025.3 1432.4 Z" stroke-width="3.2" fill="#fff"/>
<path d="M1031 1313 L1031 1428" stroke-width="2.6"/>
<path d="M1026.5 1312 Q1040 1300 1059 1290.5" stroke-width="5.0"/>
<path d="M1034 1414 Q1036 1406 1040 1405 Q1040 1412 1036 1416 Z" fill="#000" stroke-width="2"/>
<path d="M1007.9 1449.8 L1026.5 1432.4 L1043.9 1430 L1041.5 1525 Q1037 1545 1025.3 1547.3 Q1013 1546 1010 1530 Z" stroke-width="3.0" fill="#fff"/>
<path d="M1011.4 1452 L1043.9 1431" stroke-width="1.8"/>
<path d="M1012.5 1453 L1012.5 1532" stroke-width="1.8"/>
<ellipse cx="1033.4" cy="1506.6" rx="6.5" ry="11" transform="rotate(15 1033.4 1506.6)" stroke-width="3.8"/>
<path d="M1031 1508 L1041 1506" stroke-width="2.5"/>
<circle cx="954.5" cy="1477.2" r="1.6" fill="#000" stroke="none"/>
<circle cx="945.2" cy="1517.1" r="2.2" fill="#000" stroke="none"/>
<ellipse cx="1251.2" cy="1460.5" rx="101.1" ry="35.5" transform="rotate(-78.47 1251.2 1460.5)" stroke-width="3.0"/>
<path d="M1256.3 1358.4 L1254.9 1358.2 L1253.5 1358.2 L1252.1 1358.3 L1250.6 1358.6 L1249.1 1359.0 L1247.6 1359.5 L1246.1 1360.3 L1244.6 1361.1 L1243.0 1362.1 L1241.5 1363.3 L1239.9 1364.6 L1238.3 1366.1 L1236.7 1367.7 L1235.2 1369.4 L1233.6 1371.3 L1232.0 1373.3 L1230.4 1375.4 L1228.9 1377.6 L1227.3 1380.0 L1225.8 1382.5 L1224.3 1385.1 L1222.8 1387.9 L1221.3 1390.7 L1219.8 1393.6 L1218.4 1396.7 L1217.0 1399.8 L1215.6 1403.0 L1214.3 1406.3 L1213.0 1409.7 L1211.7 1413.1 L1210.5 1416.7 L1209.3 1420.3 L1208.1 1423.9 L1207.0 1427.6 L1205.9 1431.3 L1204.9 1435.1 L1204.0 1438.9 L1203.0 1442.8 L1202.2 1446.6 L1201.3 1450.5 L1200.6 1454.4 L1199.9 1458.3 L1199.2 1462.2 L1198.6 1466.1 L1198.1 1470.0 L1197.6 1473.8 L1197.2 1477.7 L1196.8 1481.5 L1196.5 1485.2 L1196.3 1489.0 L1196.1 1492.6 L1196.0 1496.3 L1195.9 1499.8 L1195.9 1503.3 L1196.0 1506.7 L1196.1 1510.1 L1196.3 1513.3 L1196.6 1516.5 L1196.9 1519.6 L1197.3 1522.6 L1197.7 1525.5 L1198.2 1528.3 L1198.8 1531.0 L1199.4 1533.5 L1200.1 1536.0 L1200.8 1538.3 L1201.6 1540.5 L1202.4 1542.6 L1203.3 1544.5 L1204.2 1546.3 L1205.2 1548.0 L1206.2 1549.5 L1207.3 1550.9 L1208.4 1552.2 L1209.6 1553.3 L1210.8 1554.2 L1212.1 1555.0 L1213.3 1555.7 L1214.7 1556.2 L1216.0 1556.5" stroke-width="3.0"/>
<path d="M1256.3 1358.4 L1271.3 1361.4" stroke-width="3.0"/>
<path d="M1216.0 1556.5 L1231.0 1559.5" stroke-width="3.0"/>
<path d="M1229.8 1397.6 L1234.5 1389.3 L1242.9 1390.5 L1240.5 1400 L1232.1 1404.8 Z" stroke-width="2.5"/>
<path d="M1283.3 1413 L1290.5 1410.7 L1292.9 1434.5 L1286.5 1435.7 Z" stroke-width="2.5"/>
<path d="M1204.8 1499 L1211 1498.8 L1213.1 1518 L1206 1519 Z" stroke-width="2.5"/>
<path d="M1264.3 1516 L1270 1502 L1277.4 1501.2 L1271.5 1518 L1265 1520 Z" stroke-width="2.5"/>
<path d="M1202 1438 L1138 1426 Q1133 1427 1133 1435 L1133 1444 Q1134 1448 1140 1449 L1199 1462" stroke-width="3.0"/>
<path d="M1143.0 1429.0 Q1140.0 1438.0 1142.0 1448.0" stroke-width="2.0"/>
<path d="M1155.0 1431.2 Q1152.0 1440.2 1154.0 1450.2" stroke-width="2.0"/>
<path d="M1167.0 1433.4 Q1164.0 1442.4 1166.0 1452.4" stroke-width="2.0"/>
<path d="M1179.0 1435.6 Q1176.0 1444.6 1178.0 1454.6" stroke-width="2.0"/>
<path d="M1191.0 1437.8 Q1188.0 1446.8 1190.0 1456.8" stroke-width="2.0"/>
<path d="M611.5 240 L611.5 299" stroke-width="3.2"/>
<path d="M1538.5 354.7 L1507.5 415.2" stroke-width="3.0"/>
<path d="M1846.9 480.2 L1892.6 475.7" stroke-width="3.2"/>
<path d="M888.9 648.8 L974.6 661.9" stroke-width="3.0"/>
<path d="M789.5 812 L769.9 882.6" stroke-width="3.0"/>
<path d="M1898.5 767 L1820.7 923.6" stroke-width="2.6"/>
<path d="M1583.8 1082.2 L1654 1131.3" stroke-width="3.2"/>
<path d="M767.3 1225.8 L743.5 1309.3" stroke-width="3.0"/>
<path d="M1325 1296.4 L1283.3 1369" stroke-width="2.6"/>
<circle cx="652.5" cy="52.0" r="1.8" fill="#000" stroke="none"/>
<circle cx="85.7" cy="84.1" r="1.0" fill="#000" stroke="none"/>
<circle cx="333.2" cy="84.1" r="1.0" fill="#000" stroke="none"/>
<circle cx="115.2" cy="130.2" r="1.0" fill="#000" stroke="none"/>
<circle cx="302.7" cy="159.6" r="1.0" fill="#000" stroke="none"/>
<circle cx="1084.8" cy="186.4" r="1.0" fill="#000" stroke="none"/>
<circle cx="910.7" cy="243.8" r="1.0" fill="#000" stroke="none"/>
<circle cx="1108.9" cy="310.7" r="1.0" fill="#000" stroke="none"/>
<circle cx="742.0" cy="685.7" r="1.0" fill="#000" stroke="none"/>
<circle cx="592.0" cy="722.0" r="1.0" fill="#000" stroke="none"/>
<circle cx="309.6" cy="777.9" r="1.0" fill="#000" stroke="none"/>
<circle cx="56.3" cy="854.5" r="2.4" fill="#000" stroke="none"/>
<circle cx="413.4" cy="1119.0" r="1.0" fill="#000" stroke="none"/>
<circle cx="390.9" cy="1500.2" r="1.2" fill="#000" stroke="none"/>
<circle cx="2168.8" cy="484.8" r="1.0" fill="#000" stroke="none"/>
<circle cx="2200.6" cy="1196.8" r="1.0" fill="#000" stroke="none"/>
<circle cx="1808.6" cy="1509.3" r="1.0" fill="#000" stroke="none"/>
<circle cx="1802.2" cy="1521.6" r="1.0" fill="#000" stroke="none"/>
<circle cx="1854.3" cy="1755.2" r="1.0" fill="#000" stroke="none"/>
<circle cx="908.5" cy="1713.5" r="0.9" fill="#000" stroke="none"/>
<path d="M567 110.5 L564.5 119.5" stroke-width="2.2"/>
<path d="M771 1717 Q775 1716 776 1712" stroke-width="2.4"/>
<text class="lbl" transform="translate(571.99 229.00) scale(0.7535 0.8014)">300</text>
<text class="lbl" transform="translate(1519.02 330.93) scale(0.7764 0.7718)">252</text>
<text class="lbl" transform="translate(1926.00 506.24) scale(0.7797 0.7634)">255</text>
<text class="lbl" transform="translate(750.91 663.98) scale(0.7723 0.8155)">320</text>
<text class="lbl" transform="translate(712.16 961.21) scale(0.7089 0.7901)">301</text>
<text class="lbl" transform="translate(1875.09 742.32) scale(0.7822 0.7789)">256</text>
<text class="lbl" transform="translate(1656.50 1192.32) scale(0.7000 0.7775)">251</text>
<text class="lbl" transform="translate(702.88 1203.33) scale(0.7792 0.7676)">300</text>
<text class="lbl" transform="translate(1273.74 1278.33) scale(0.7905 0.7676)">302</text>
</g>
</svg>
</body></html>
